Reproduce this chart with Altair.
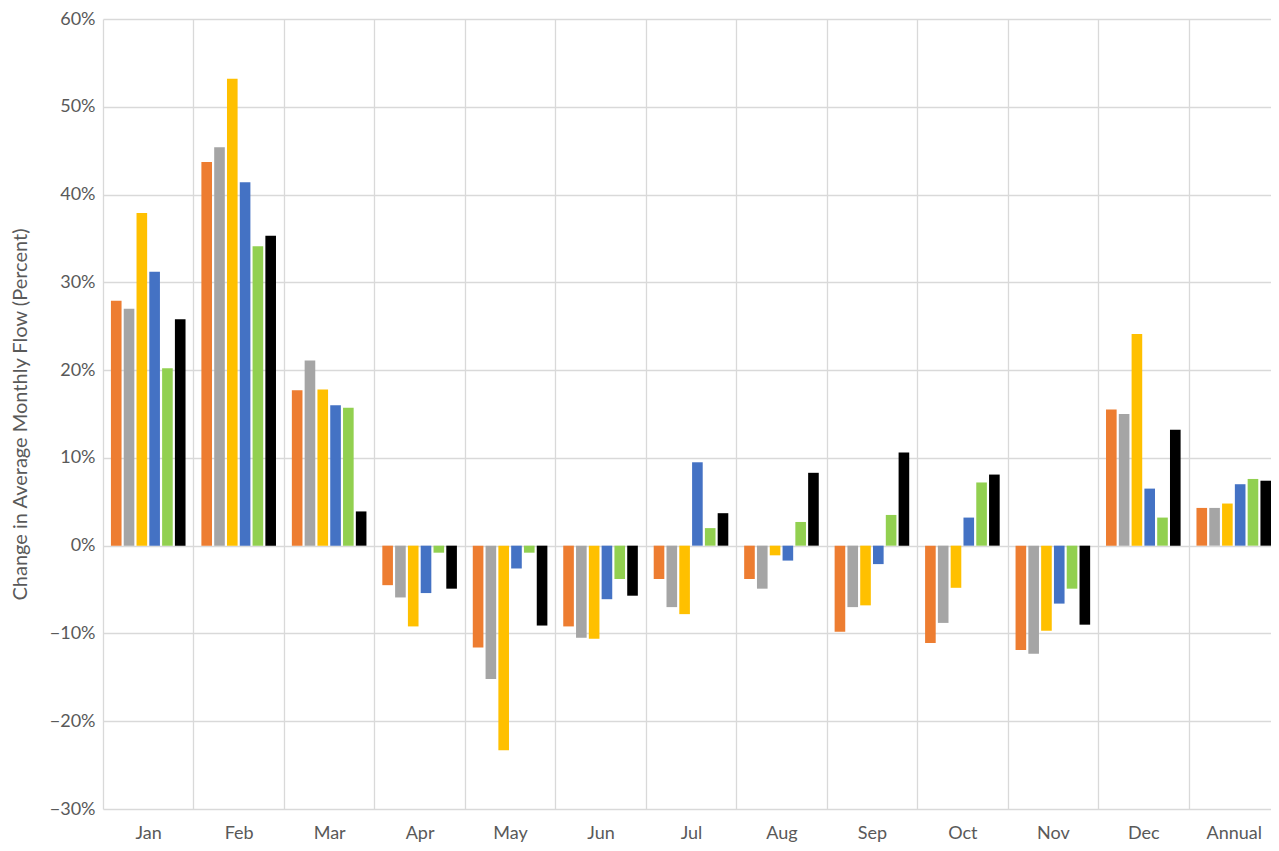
import altair as alt
import pandas as pd

categories = ["Jan", "Feb", "Mar", "Apr", "May", "Jun", "Jul", "Aug", "Sep", "Oct", "Nov", "Dec", "Annual"]
series_names = ["Series 1", "Series 2", "Series 3", "Series 4", "Series 5", "Series 6"]
series_colors = ["#ED7D31", "#A5A5A5", "#FFC000", "#4472C4", "#92D050", "#000000"]

s1 = [27.9, 43.7, 17.7, -4.5, -11.6, -9.2, -3.8, -3.8, -9.8, -11.1, -11.9, 15.5, 4.3]
s2 = [27.0, 45.4, 21.1, -5.9, -15.2, -10.5, -7.0, -4.9, -7.0, -8.8, -12.3, 15.0, 4.3]
s3 = [37.9, 53.2, 17.8, -9.2, -23.3, -10.6, -7.8, -1.1, -6.8, -4.8, -9.7, 24.1, 4.8]
s4 = [31.2, 41.4, 16.0, -5.4, -2.6, -6.1, 9.5, -1.7, -2.1, 3.2, -6.6, 6.5, 7.0]
s5 = [20.2, 34.1, 15.7, -0.8, -0.8, -3.8, 2.0, 2.7, 3.5, 7.2, -4.9, 3.2, 7.6]
s6 = [25.8, 35.3, 3.9, -4.9, -9.1, -5.7, 3.7, 8.3, 10.6, 8.1, -9.0, 13.2, 7.4]

all_series = [s1, s2, s3, s4, s5, s6]
rows = []
for name, vals in zip(series_names, all_series):
    for c, v in zip(categories, vals):
        rows.append({"category": c, "series": name, "value": v / 100.0})
df = pd.DataFrame(rows)

FONT = "Lato"
GREY_TXT = "#595959"
GRID = "#D9D9D9"

chart = alt.Chart(df).mark_bar().encode(
    x=alt.X("category:N", sort=categories, title=None,
            scale=alt.Scale(paddingInner=0, paddingOuter=0),
            axis=alt.Axis(tickBand="extent", grid=True, gridColor=GRID, gridWidth=1.3,
                          ticks=False, domain=False, labelAngle=0,
                          labelFont=FONT, labelFontSize=18, labelColor=GREY_TXT,
                          labelBaseline="alphabetic", labelPadding=29)),
    xOffset=alt.XOffset("series:N", sort=series_names,
                        scale=alt.Scale(paddingInner=0.17, paddingOuter=0.62)),
    y=alt.Y("value:Q", title="Change in Average Monthly Flow (Percent)",
            scale=alt.Scale(domain=[-0.3, 0.6], nice=False),
            axis=alt.Axis(values=[-0.3, -0.2, -0.1, 0, 0.1, 0.2, 0.3, 0.4, 0.5, 0.6],
                          format=".0%", grid=True, gridColor=GRID, gridWidth=1.3,
                          ticks=False, domain=False,
                          labelFont=FONT, labelFontSize=18, labelColor=GREY_TXT,
                          labelPadding=8,
                          titleFont=FONT, titleFontSize=20, titleColor=GREY_TXT,
                          titleFontWeight="normal",
                          titleX=-83, titleY=395, titleAlign="center",
                          titleBaseline="middle", titleAngle=270)),
    color=alt.Color("series:N", sort=series_names,
                    scale=alt.Scale(domain=series_names, range=series_colors),
                    legend=None),
).properties(
    width=1176,
    height=790,
    padding={"left": 95, "top": 11, "right": -8, "bottom": 34},
    autosize=alt.AutoSizeParams(type="none"),
).configure_view(stroke=None)

chart.save("out.html", embed_options={"renderer": "svg", "actions": False})
